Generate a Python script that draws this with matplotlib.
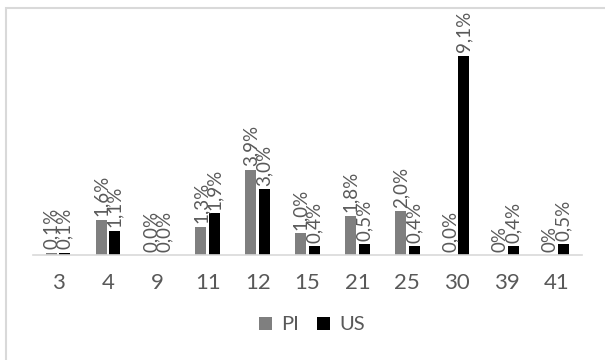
import numpy as np
import matplotlib.pyplot as plt
from matplotlib.patches import Rectangle

# data
categories = ['3', '4', '9', '11', '12', '15', '21', '25', '30', '39', '41']
pi_values = [0.1, 1.6, 0.0, 1.3, 3.9, 1.0, 1.8, 2.0, 0.0, 0.0, 0.0]
us_values = [0.1, 1.1, 0.0, 1.9, 3.0, 0.4, 0.5, 0.4, 9.1, 0.4, 0.5]
pi_labels = ['0,1%', '1,6%', '0,0%', '1,3%', '3,9%', '1,0%', '1,8%', '2,0%', '0,0%', '0%', '0%']
us_labels = ['0,1%', '1,1%', '0,0%', '1,9%', '3,0%', '0,4%', '0,5%', '0,4%', '9,1%', '0,4%', '0,5%']

plt.rcParams['font.family'] = ['Lato', 'DejaVu Sans']
text_col = '#595959'

fig = plt.figure(figsize=(6.05, 3.6), dpi=100)
# chart border (only left/top edges visible in the crop)
fig.patches.append(Rectangle((6 / 605, -0.1), 1.2, 1 - 8 / 360 + 0.1,
                             transform=fig.transFigure, fill=False,
                             edgecolor='#d9d9d9', linewidth=1.5))

ax = fig.add_axes([33 / 605, 105 / 360, 549 / 605, 219 / 360])
x = np.arange(len(categories))
w = 0.22
off = 0.135
b1 = ax.bar(x - off, pi_values, w, color='#7f7f7f', label='PI')
b2 = ax.bar(x + off, us_values, w, color='#000000', label='US')

for bars, labels in ((b1, pi_labels), (b2, us_labels)):
    for rect, lab in zip(bars, labels):
        ax.annotate(lab, (rect.get_x() + rect.get_width() / 2, rect.get_height()),
                    xytext=(0, 2.5), textcoords='offset points', rotation=90,
                    ha='center', va='bottom', fontsize=13.5, color=text_col)

ax.set_xlim(-0.5, 10.5)
ax.set_ylim(0, 10)
ax.set_xticks(x)
ax.set_xticklabels(categories, fontsize=16, color=text_col)
ax.tick_params(axis='x', length=0, pad=13)
ax.set_yticks([])
for s in ('top', 'right', 'left'):
    ax.spines[s].set_visible(False)
ax.spines['bottom'].set_color('#d9d9d9')
ax.spines['bottom'].set_linewidth(1.2)
ax.patch.set_alpha(0)

leg = fig.legend(handles=[b1, b2], loc='center', bbox_to_anchor=(0.516, 1 - 325 / 360),
                 ncol=2, frameon=False, fontsize=14.5, handlelength=0.65, handleheight=0.65,
                 handletextpad=0.45, columnspacing=0.9)
for t in leg.get_texts():
    t.set_color(text_col)

fig.savefig('out.png', dpi=100)
